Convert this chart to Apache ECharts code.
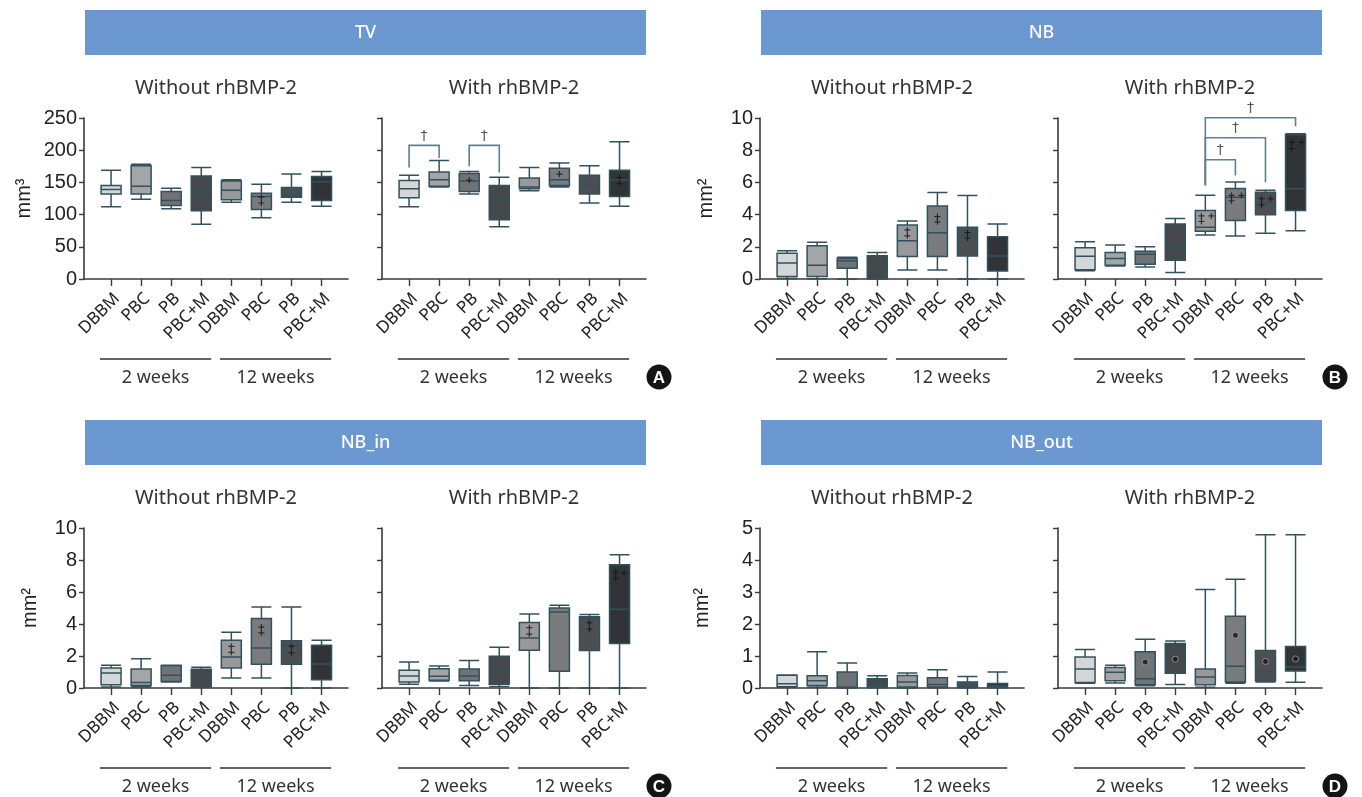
<!DOCTYPE html>
<html><head><meta charset="utf-8">
<script src="https://cdn.jsdelivr.net/npm/echarts@6/dist/echarts.min.js"></script>
<style>html,body{margin:0;padding:0;background:#fff}#c{width:1362px;height:797px}</style>
</head><body><div id="c"></div>
<script>
// ---------- DATA ----------
const categories = ['DBBM','PBC','PB','PBC+M','DBBM','PBC','PB','PBC+M'];
const groupLabels = ['2 weeks','12 weeks'];
const panelTitles = ['TV','NB','NB_in','NB_out'];
const panelLetters = ['A','B','C','D'];
const subTitles = ['Without rhBMP-2','With rhBMP-2'];
const unitTV = 'mm³';
const unitArea = 'mm²';
const tvYTicks = [0,50,100,150,200,250];
const nbYTicks = [0,2,4,6,8,10];
const nbInYTicks = [0,2,4,6,8,10];
const nbOutYTicks = [0,1,2,3,4,5];

// boxes: [min, Q1, median, Q3, max]
const tvWithout = [[112,132,139,145,169],[124,132,144,176,178],[109,114,122,136,141],[85,106,135,160,173],[119,123,138,152,154],[95,108,128,133,147],[119,127,130,142,163],[113,122,151,159,167]];
const tvWith = [[112,126,140,153,161],[143,144,154,166,184],[132,136,152,164,167],[81,92,127,145,158],[137,140,143,157,173],[143,145,154,172,180],[118,132,147,161,176],[113,128,154,169,213]];
const nbWithout = [[0.03,0.15,1.0,1.6,1.76],[0.02,0.15,0.85,2.07,2.28],[0,0.66,1.14,1.29,1.35],[0,0.04,0.6,1.45,1.64],[0.56,1.39,2.37,3.36,3.61],[0.56,1.39,2.88,4.54,5.37],[0,1.43,2.66,3.22,5.19],[0,0.5,1.43,2.63,3.42]];
const nbWith = [[0.52,0.58,1.42,1.94,2.32],[0.81,0.86,1.27,1.65,2.11],[0.75,0.92,1.54,1.73,2.0],[0.4,1.17,1.92,3.42,3.76],[2.73,2.96,3.22,4.26,5.2],[2.67,3.63,5.07,5.62,6.03],[2.84,3.99,4.72,5.39,5.51],[2.99,4.26,5.6,8.98,9.02]];
const nbInWithout = [[0.06,0.21,0.94,1.25,1.42],[0.06,0.15,0.35,1.19,1.83],[0.38,0.4,0.79,1.4,1.42],[0.05,0.08,0.56,1.17,1.29],[0.63,1.25,1.94,2.98,3.48],[0.63,1.48,2.5,4.35,5.06],[0,1.48,2.67,2.96,5.06],[0,0.52,1.5,2.67,2.98]];
const nbInWith = [[0.23,0.38,0.75,1.11,1.63],[0.44,0.48,0.73,1.21,1.38],[0.15,0.46,0.75,1.19,1.72],[0.1,0.23,1.05,1.99,2.55],[0,2.36,3.12,4.1,4.62],[0,1.05,4.75,5.0,5.17],[0,2.34,4.35,4.46,4.6],[0,2.78,4.92,7.7,8.33]];
const nbOutWithout = [[0.02,0.04,0.13,0.4,0.41],[0.02,0.08,0.23,0.38,1.13],[0,0.01,0.03,0.5,0.78],[0.01,0.03,0.08,0.29,0.38],[0,0.03,0.19,0.39,0.47],[0.01,0.03,0.11,0.32,0.57],[0.01,0.02,0.06,0.19,0.36],[0.01,0.02,0.06,0.14,0.5]];
const nbOutWith = [[0.15,0.17,0.59,0.97,1.2],[0.16,0.23,0.49,0.64,0.71],[0.07,0.1,0.29,1.13,1.52],[0.11,0.46,1.15,1.39,1.47],[0.02,0.1,0.34,0.59,3.08],[0.15,0.19,0.68,2.24,3.4],[0.19,0.23,0.5,1.17,4.79],[0.18,0.53,0.66,1.3,4.79]];

// small "+" markers drawn inside boxes: [category position, value]
const tvWithoutMarks = [[5,127],[5,118]];
const tvWithMarks = [[2,153.5],[5,163],[7,157],[7,148]];
const nbWithoutMarks = [[4,3.05],[4,2.68],[5,3.88],[5,3.55],[6,2.88],[6,2.53]];
const nbWithMarks = [[3.87,3.92],[3.87,3.57],[4.2,3.92],[4.87,5.2],[4.87,4.86],[5.2,5.2],[5.87,4.99],[5.87,4.61],[6.17,4.99],[6.87,8.48],[6.87,8.1],[7.2,8.48]];
const nbInWithoutMarks = [[4,2.6],[4,2.23],[5,3.81],[5,3.44],[6,2.6],[6,2.19]];
const nbInWithMarks = [[4,3.77],[4,3.37],[6,4.08],[6,3.68],[6.87,7.24],[6.87,6.86],[7.15,7.18]];
const nbOutWithoutMarks = [];
const nbOutWithMeans = [[2,0.81],[3,0.9],[5,1.65],[6,0.83],[7,0.91]];

// significance brackets: [from, to, top, leftEnd, rightEnd]
const tvWithBrackets = [[0,1,207.5,173,188],[2,3,207.5,175,165.5]];
const nbWithBrackets = [[4,5,7.41,5.82,6.43],[4,6,8.77,5.82,6.01],[4,7,10.02,5.82,9.48]];

// ---------- STYLE / LAYOUT ----------
const boxFills = ['#d4d7d7','#a3a5a6','#707375','#45484b','#98999b','#797b7d','#4c4f52','#313436'];
const edge = '#33515d';
const X_MIN = -0.9, X_MAX = 7.88, GW = 264;
const plots = [
  {box: tvWithout, marks: tvWithoutMarks, br: [], ticks: tvYTicks, unit: unitTV, left: 84, top: 118, h: 161, lab: true, gap: 50},
  {box: tvWith, marks: tvWithMarks, br: tvWithBrackets, ticks: tvYTicks, left: 382, top: 118, h: 161},
  {box: nbWithout, marks: nbWithoutMarks, br: [], ticks: nbYTicks, unit: unitArea, left: 760, top: 118, h: 161, lab: true, gap: 44},
  {box: nbWith, marks: nbWithMarks, br: nbWithBrackets, ticks: nbYTicks, left: 1058, top: 118, h: 161},
  {box: nbInWithout, marks: nbInWithoutMarks, br: [], ticks: nbInYTicks, unit: unitArea, left: 84, top: 528, h: 160, lab: true, gap: 44},
  {box: nbInWith, marks: nbInWithMarks, br: [], ticks: nbInYTicks, left: 382, top: 528, h: 160},
  {box: nbOutWithout, marks: nbOutWithoutMarks, br: [], ticks: nbOutYTicks, unit: unitArea, left: 760, top: 528, h: 160, lab: true, gap: 48},
  {box: nbOutWith, marks: [], means: nbOutWithMeans, br: [], ticks: nbOutYTicks, left: 1058, top: 528, h: 160}
];
const sansFont = '"Noto Sans", "Open Sans", sans-serif';
const numFont = '"Liberation Sans", Arial, sans-serif';

const grid = [], xAxis = [], yAxis = [], series = [], graphic = [];
const plusPath = 'path://M4,0H6V4H10V6H6V10H4V6H0V4H4Z';
const xpx = (p, v) => p.left + (v - X_MIN) * GW / (X_MAX - X_MIN);

plots.forEach((p, i) => {
  grid.push({left: p.left, top: p.top, width: GW, height: p.h});
  xAxis.push({
    type: 'value', gridIndex: i, min: X_MIN, max: X_MAX,
    splitLine: {show: false},
    axisLine: {show: true, onZero: false, lineStyle: {color: '#3a3a3a', width: 1.6}},
    axisTick: {show: true, length: 7, customValues: [0,1,2,3,4,5,6,7], lineStyle: {color: '#3a3a3a', width: 1.4}},
    axisLabel: {show: true, customValues: [0,1,2,3,4,5,6,7], rotate: 45, margin: 11,
      verticalAlign: 'top', overflow: 'none',
      formatter: v => categories[Math.round(v)] || '', fontFamily: sansFont, fontSize: 17, color: '#222'}
  });
  const t = p.ticks;
  yAxis.push({
    type: 'value', gridIndex: i, min: t[0], max: t[t.length - 1], interval: t[1] - t[0],
    splitLine: {show: false},
    axisLine: {show: true, onZero: false, lineStyle: {color: '#3a3a3a', width: 1.6}},
    axisTick: {show: true, length: 5, lineStyle: {color: '#3a3a3a', width: 1.4}},
    axisLabel: {show: !!p.lab, fontFamily: numFont, fontSize: 20, color: '#222', margin: 7},
    name: p.unit || '', nameLocation: 'middle', nameRotate: 90, nameGap: p.gap || 40,
    nameTextStyle: {fontFamily: numFont, fontSize: 20, color: '#222'}
  });
  series.push({
    type: 'boxplot', xAxisIndex: i, yAxisIndex: i, boxWidth: [20, 20],
    data: p.box.map((b, k) => ({value: [k].concat(b), itemStyle: {color: boxFills[k], borderColor: edge, borderWidth: 1.5}})),
    silent: true
  });
  if (p.marks.length) series.push({
    type: 'scatter', xAxisIndex: i, yAxisIndex: i, symbol: plusPath, symbolSize: 6,
    itemStyle: {color: '#151515'}, data: p.marks, silent: true, z: 5
  });
  if (p.means) series.push({
    type: 'scatter', xAxisIndex: i, yAxisIndex: i, symbol: 'circle', symbolSize: 6,
    itemStyle: {color: '#151515', borderColor: '#9aa', borderWidth: 1}, data: p.means, silent: true, z: 5
  });
  if (p.br.length) series.push({
    type: 'custom', xAxisIndex: i, yAxisIndex: i, clip: false, silent: true, z: 6,
    encode: {x: [0, 1], y: [2, 3, 4]},
    data: p.br,
    renderItem: (params, api) => {
      const x1 = api.value(0), x2 = api.value(1), yt = api.value(2), yl = api.value(3), yr = api.value(4);
      const a = api.coord([x1, yl]), b = api.coord([x1, yt]), c = api.coord([x2, yt]), d = api.coord([x2, yr]);
      const m = api.coord([(x1 + x2) / 2, yt]);
      return {type: 'group', children: [
        {type: 'polyline', shape: {points: [a, b, c, d]}, style: {stroke: '#5f818d', lineWidth: 1.6, fill: null}},
        {type: 'text', x: m[0], y: m[1] - 2, style: {text: '†', fill: '#555', font: '14px "DejaVu Sans"', align: 'center', verticalAlign: 'bottom'}}
      ]};
    }
  });
  // subtitle
  graphic.push({type: 'text', x: p.left + GW / 2, y: p.top - 30,
    style: {text: subTitles[i % 2], font: '20px ' + sansFont, fill: '#333', align: 'center', verticalAlign: 'middle'}});
  // group lines + labels
  const ly = p.top + p.h + 80;
  [[-0.37, 3.33], [3.62, 7.32]].forEach((r, g) => {
    graphic.push({type: 'line', shape: {x1: xpx(p, r[0]), y1: ly, x2: xpx(p, r[1]), y2: ly}, style: {stroke: '#333', lineWidth: 1.3}});
    graphic.push({type: 'text', x: (xpx(p, r[0]) + xpx(p, r[1])) / 2, y: ly + 19,
      style: {text: groupLabels[g], font: '18px ' + sansFont, fill: '#333', align: 'center', verticalAlign: 'middle'}});
  });
});

// banners and letters per panel
for (let k = 0; k < 4; k++) {
  const pl = plots[k * 2], pr = plots[k * 2 + 1];
  const bx = pl.left + 1, bw = pr.left + GW - pl.left - 1, by = pl.top - 108;
  graphic.push({type: 'rect', shape: {x: bx, y: by, width: bw, height: 45}, style: {fill: '#6b98d0'}});
  graphic.push({type: 'text', x: bx + bw / 2, y: by + 23,
    style: {text: panelTitles[k], font: '500 18px ' + sansFont, fill: '#fff', align: 'center', verticalAlign: 'middle'}});
  const cx = pr.left + GW + 13, cy = pl.top + pl.h + 98;
  graphic.push({type: 'circle', shape: {cx: cx, cy: cy, r: 12.5}, style: {fill: '#141414'}});
  graphic.push({type: 'text', x: cx, y: cy + 1,
    style: {text: panelLetters[k], font: 'bold 17px ' + numFont, fill: '#fff', align: 'center', verticalAlign: 'middle'}});
}

const chart = echarts.init(document.getElementById('c'), null, {renderer: 'canvas'});
chart.setOption({animation: false, grid, xAxis, yAxis, series, graphic});
</script>
</body></html>
